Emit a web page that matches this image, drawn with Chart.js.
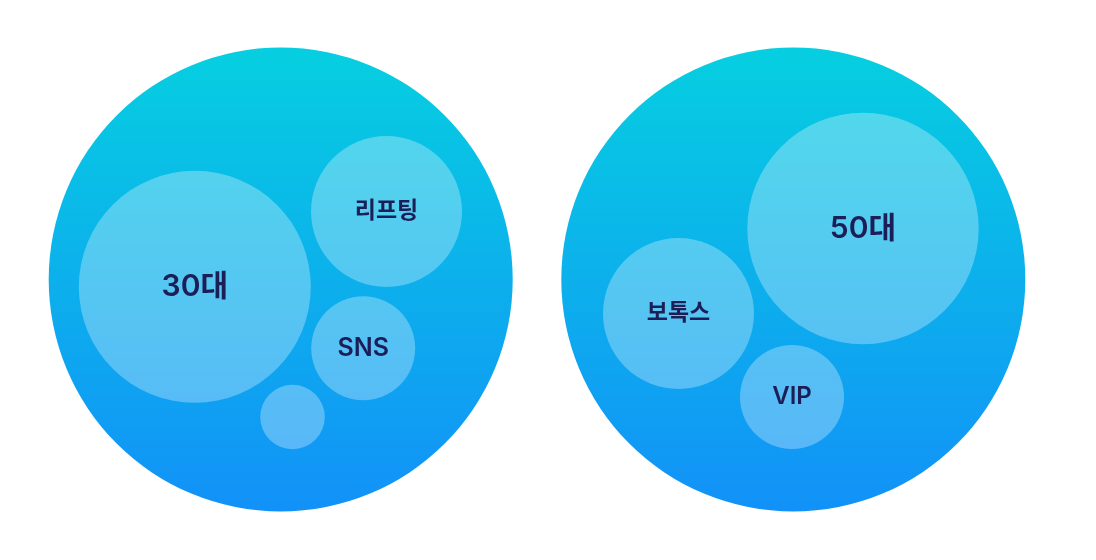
<!DOCTYPE html>
<html lang="ko">
<head>
<meta charset="utf-8">
<style>
  html, body { margin: 0; padding: 0; background: #ffffff; }
  #wrap { width: 1096px; height: 560px; }
</style>
<script src="https://cdn.jsdelivr.net/npm/chart.js@4.4.1/dist/chart.umd.min.js"></script>
</head>
<body>
<div id="wrap"><canvas id="c" width="1096" height="560"></canvas></div>
<script>
// Outer group bubbles
const outerLabels = ['그룹 A', '그룹 B'];
const outerX = [280.7, 793.3];
const outerY = [279.5, 279.5];
const outerR = [232, 232];

// Inner topic bubbles
const innerLabels = ['30대', '리프팅', 'SNS', '', '50대', '보톡스', 'VIP'];
const innerX = [194.8, 386.5, 363.2, 292.5, 863, 678.5, 792];
const innerY = [286.8, 211.5, 348.3, 417, 228.5, 313.5, 397];
const innerR = [116, 75.5, 52, 32.3, 115.7, 75.5, 52];
const innerFontSize = [30, 23, 25, 0, 30, 23, 24];

const GRAD_TOP = '#06CFE0';
const GRAD_BOTTOM = '#1291F8';
const LABEL_COLOR = '#1C1E57';

function radiusFromScale(ctx, r) {
  const sx = ctx.chart.scales.x;
  if (!sx) return r;
  return Math.abs(sx.getPixelForValue(r) - sx.getPixelForValue(0));
}

const outerData = outerX.map((x, i) => ({ x: x, y: outerY[i], r: outerR[i] }));
const innerData = innerX.map((x, i) => ({ x: x, y: innerY[i], r: innerR[i] }));

function outerGradient(ctx) {
  const chart = ctx.chart;
  const sy = chart.scales.y;
  if (!chart.chartArea || !sy || ctx.raw === undefined) return GRAD_BOTTOM;
  const d = ctx.raw;
  const top = sy.getPixelForValue(d.y - d.r);
  const bottom = sy.getPixelForValue(d.y + d.r);
  const g = chart.ctx.createLinearGradient(0, Math.min(top, bottom), 0, Math.max(top, bottom));
  g.addColorStop(0, GRAD_TOP);
  g.addColorStop(1, GRAD_BOTTOM);
  return g;
}

const labelPlugin = {
  id: 'bubbleLabels',
  afterDatasetsDraw(chart) {
    const meta = chart.getDatasetMeta(1);
    const c = chart.ctx;
    c.save();
    c.textAlign = 'center';
    c.textBaseline = 'middle';
    c.fillStyle = LABEL_COLOR;
    meta.data.forEach((el, i) => {
      const t = innerLabels[i];
      if (!t) return;
      c.font = '600 ' + innerFontSize[i] + 'px Inter, "Noto Sans CJK KR", "Noto Sans", sans-serif';
      c.fillText(t, el.x, el.y);
    });
    c.restore();
  }
};

new Chart(document.getElementById('c'), {
  type: 'bubble',
  data: {
    datasets: [
      {
        label: 'groups',
        data: outerData,
        backgroundColor: outerGradient,
        borderWidth: 0,
        radius: (ctx) => radiusFromScale(ctx, ctx.raw ? ctx.raw.r : 0),
        hoverRadius: 0,
        clip: false,
        order: 2
      },
      {
        label: 'topics',
        data: innerData,
        backgroundColor: 'rgba(255,255,255,0.30)',
        borderWidth: 0,
        radius: (ctx) => radiusFromScale(ctx, ctx.raw ? ctx.raw.r : 0),
        hoverRadius: 0,
        clip: false,
        order: 1
      }
    ]
  },
  options: {
    responsive: false,
    animation: false,
    events: [],
    layout: { padding: 0, autoPadding: false },
    plugins: {
      legend: { display: false },
      tooltip: { enabled: false },
      title: { display: false }
    },
    scales: {
      x: { type: 'linear', min: 0, max: 1096, display: false },
      y: { type: 'linear', min: 0, max: 560, reverse: true, display: false }
    }
  },
  plugins: [labelPlugin]
});
</script>
</body>
</html>
